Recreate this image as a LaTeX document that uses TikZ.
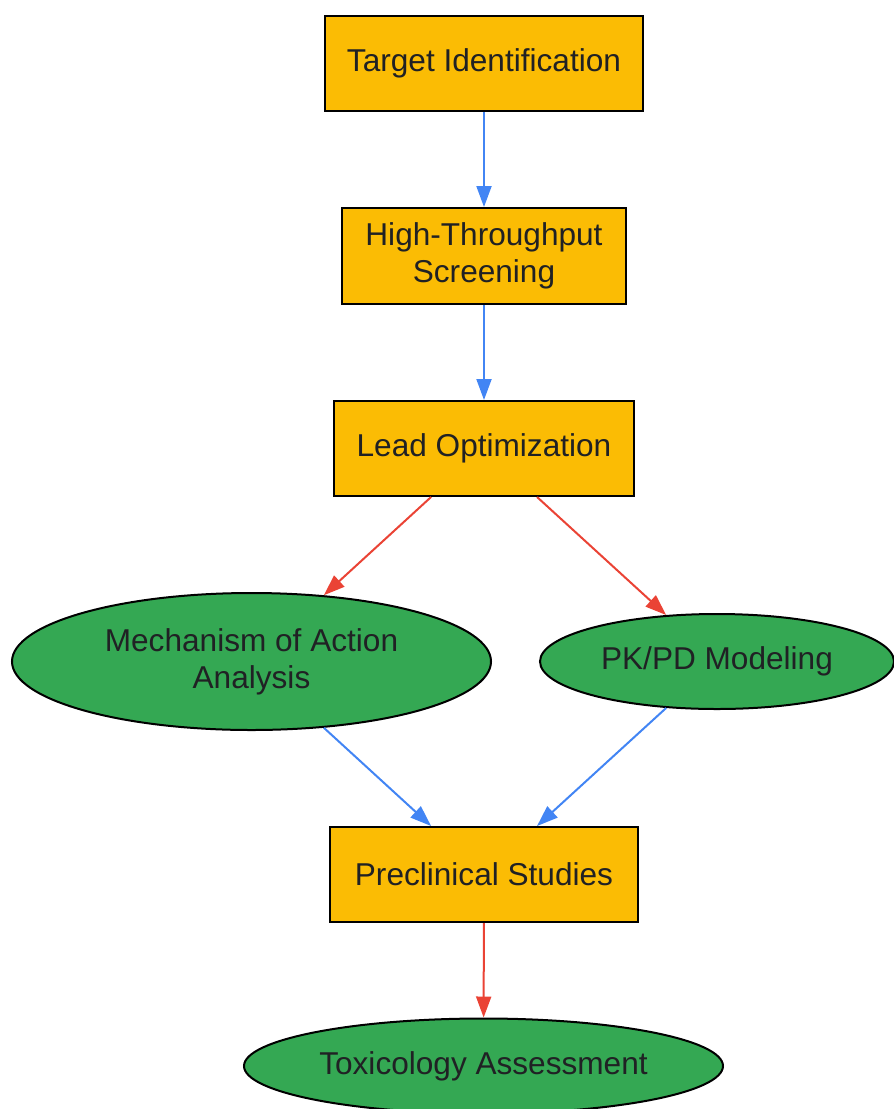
\documentclass[tikz,border=0pt]{standalone}
\usepackage{fontspec}
\setmainfont{Liberation Sans}
\usepackage{xcolor}
\usepackage{tikz}
\usetikzlibrary{arrows.meta,shapes.geometric}

\definecolor{gold}{HTML}{FBBC04}
\definecolor{leaf}{HTML}{34A853}
\definecolor{sky}{HTML}{4285F4}
\definecolor{brick}{HTML}{EA4335}
\definecolor{ink}{HTML}{202124}

\tikzset{
  stage/.style={draw=black, line width=1pt, fill=gold, rectangle, inner sep=0pt,
    text=ink, align=center, font=\fontsize{15.8}{18.5}\selectfont},
  study/.style={draw=black, line width=1pt, fill=leaf, ellipse, inner sep=0pt,
    text=ink, align=center, font=\fontsize{15.8}{18.5}\selectfont},
  flow/.style={-{Triangle[length=10.5pt,width=7.5pt]}, line width=1pt}
}

\begin{document}
\begin{tikzpicture}[x=0.5pt,y=-0.5pt]
\useasboundingbox (0,0) rectangle (894,1109);
  \node[stage, minimum width=159pt, minimum height=47.5pt] (T) at (484,63.5)   {Target Identification};
  \node[stage, minimum width=142pt, minimum height=48pt]   (H) at (484,256)    {High-Throughput\\Screening};
  \node[stage, minimum width=150pt, minimum height=47.5pt] (L) at (484,448.5)  {Lead Optimization};
  \node[study, minimum width=239.5pt, minimum height=68.5pt] (M) at (251.5,661.5) {Mechanism of Action\\Analysis};
  \node[study, minimum width=177pt, minimum height=47.5pt] (P) at (717,661.5)  {PK/PD Modeling};
  \node[stage, minimum width=154pt, minimum height=47.5pt] (C) at (484,874.5)  {Preclinical Studies};
  \node[study, minimum width=239.5pt, minimum height=47.5pt] (X) at (483.5,1066) {Toxicology Assessment};

  \path[flow, draw=sky, fill=sky]
        (T) edge (H)
        (H) edge (L)
        (M) edge (C)
        (P) edge (C);

  \path[flow, draw=brick, fill=brick]
        (L) edge (M)
        (L) edge (P)
        (C) edge (X);
\end{tikzpicture}
\end{document}
